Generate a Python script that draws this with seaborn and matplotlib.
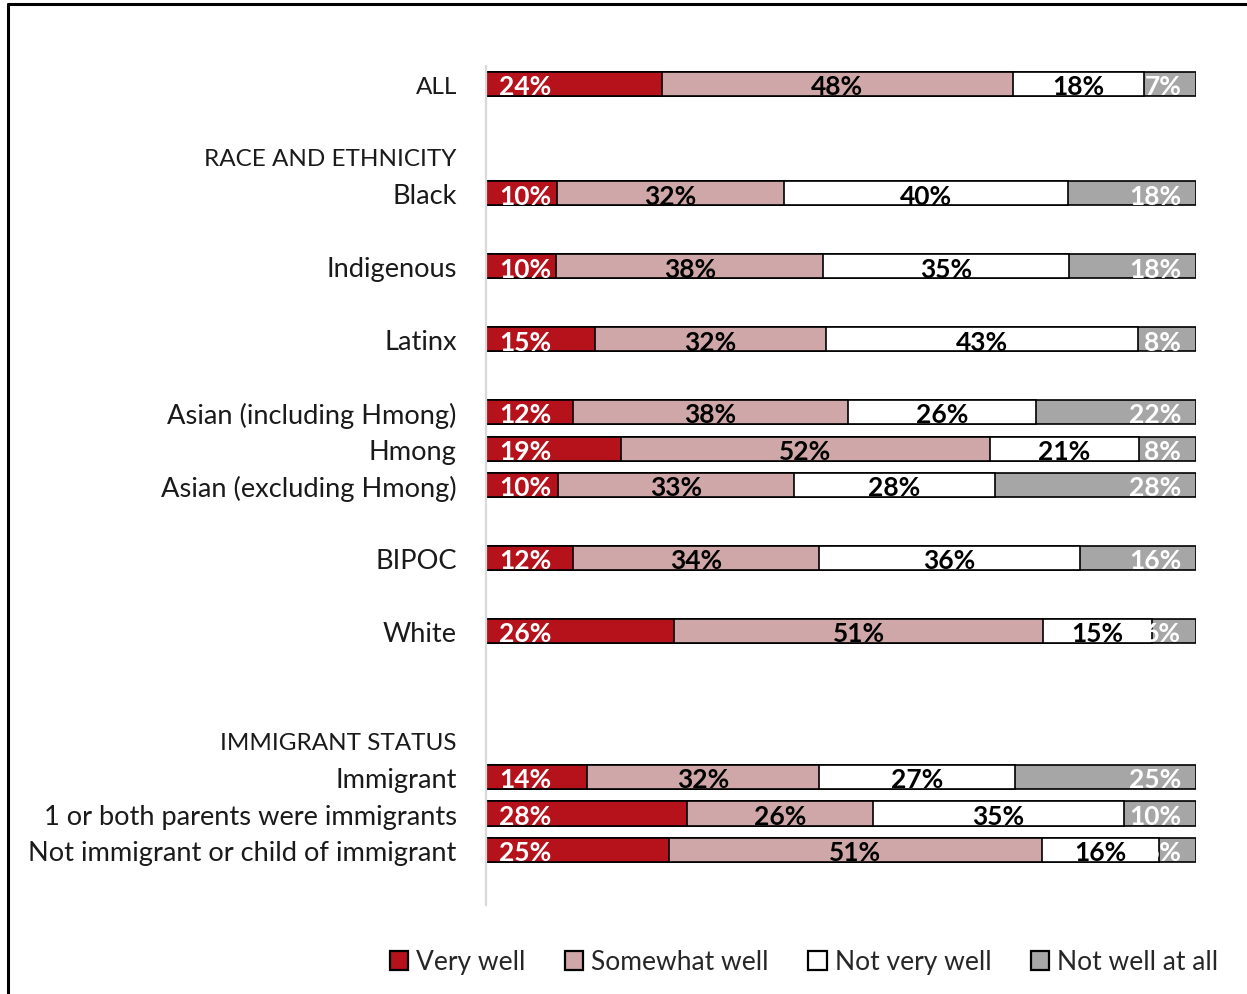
import matplotlib
matplotlib.use("Agg")
import matplotlib.pyplot as plt
from matplotlib.patches import Patch
from matplotlib.lines import Line2D
import numpy as np
import pandas as pd
import seaborn as sns

# Survey groups and response shares (%)
groups = ["ALL", "Black", "Indigenous", "Latinx", "Asian (including Hmong)", "Hmong",
          "Asian (excluding Hmong)", "BIPOC", "White", "Immigrant",
          "1 or both parents were immigrants", "Not immigrant or child of immigrant"]
very_well = [24, 10, 10, 15, 12, 19, 10, 12, 26, 14, 28, 25]
somewhat_well = [48, 32, 38, 32, 38, 52, 33, 34, 51, 32, 26, 51]
not_very_well = [18, 40, 35, 43, 26, 21, 28, 36, 15, 27, 35, 16]
not_well_at_all = [7, 18, 18, 8, 22, 8, 28, 16, 6, 25, 10, 5]

responses = ["Very well", "Somewhat well", "Not very well", "Not well at all"]

# Row layout: headers and spacer rows have no bars
row_order = ["ALL", " ", "RACE AND ETHNICITY", "Black", "  ", "Indigenous", "   ",
             "Latinx", "    ", "Asian (including Hmong)", "Hmong", "Asian (excluding Hmong)",
             "     ", "BIPOC", "      ", "White", "       ", "        ",
             "IMMIGRANT STATUS", "Immigrant", "1 or both parents were immigrants",
             "Not immigrant or child of immigrant"]
headers = ["ALL", "RACE AND ETHNICITY", "IMMIGRANT STATUS"]

colors = ["#B5121B", "#D0A7A8", "#FFFFFF", "#A6A6A6"]
label_colors = ["white", "black", "black", "white"]

sns.set_theme(style="white")
plt.rcParams["font.family"] = ["Lato", "DejaVu Sans"]

vals = np.array([very_well, somewhat_well, not_very_well, not_well_at_all], dtype=float)
shares = vals / vals.sum(axis=0) * 100  # 100% stacked
cum = np.cumsum(shares, axis=0)

df = pd.DataFrame({"group": groups})
for i, r in enumerate(responses):
    df[r] = cum[i]

fig = plt.figure(figsize=(12.47, 9.95), dpi=100)
ax = fig.add_axes([486 / 1247, 1 - 905.7 / 995, 709.5 / 1247, (905.7 - 66.8) / 995])

# Draw cumulative bars from the longest down so each segment stays visible
for i in range(len(responses) - 1, -1, -1):
    sns.barplot(data=df, x=responses[i], y="group", order=row_order, color=colors[i],
                saturation=1, edgecolor="black", linewidth=1.2, width=0.66,
                errorbar=None, ax=ax)

ax.set_xlim(0, 100)
ax.set_ylim(22.5, -0.5)
ax.set_xlabel("")
ax.set_ylabel("")
ax.set_xticks([])
for s in ["top", "right", "bottom"]:
    ax.spines[s].set_visible(False)
ax.spines["left"].set_color("#D9D9D9")
ax.spines["left"].set_linewidth(1.6)
ax.tick_params(axis="y", length=0, pad=21, labelsize=19.6, colors="#1a1a1a")
for lab in ax.get_yticklabels():
    if lab.get_text() in headers:
        lab.set_fontsize(17.5)

# Value labels
label_font = dict(family=["Lato", "DejaVu Sans"], fontsize=19, fontweight="bold")
for j, g in enumerate(groups):
    y = row_order.index(g)
    for i in range(len(responses)):
        left = cum[i, j] - shares[i, j]
        right = cum[i, j]
        txt = f"{int(vals[i, j])}%"
        if i == 0:
            ax.text(left + 1.8, y + 0.06, txt, ha="left", va="center",
                    color=label_colors[i], **label_font)
        elif i == 3:
            ax.text(right - 2.0, y + 0.06, txt, ha="right", va="center",
                    color=label_colors[i], **label_font)
        else:
            ax.text((left + right) / 2, y + 0.06, txt, ha="center", va="center",
                    color=label_colors[i], **label_font)

handles = [Patch(facecolor=c, edgecolor="black", linewidth=1.6) for c in colors]
fig.legend(handles, responses, loc="center right", bbox_to_anchor=(1229 / 1247, 1 - 963 / 995),
           ncol=4, frameon=False, fontsize=19, handlelength=0.7, handleheight=0.7,
           handletextpad=0.3, columnspacing=1.5, borderaxespad=0)

# Outer frame lines (top and left edges)
fig.add_artist(Line2D([8 / 1247, 1.0], [1 - 5 / 995, 1 - 5 / 995], color="black",
                      linewidth=2.2, transform=fig.transFigure))
fig.add_artist(Line2D([8 / 1247, 8 / 1247], [0, 1 - 5 / 995], color="black",
                      linewidth=2.2, transform=fig.transFigure))

fig.savefig("out.png", dpi=100, facecolor="white")
